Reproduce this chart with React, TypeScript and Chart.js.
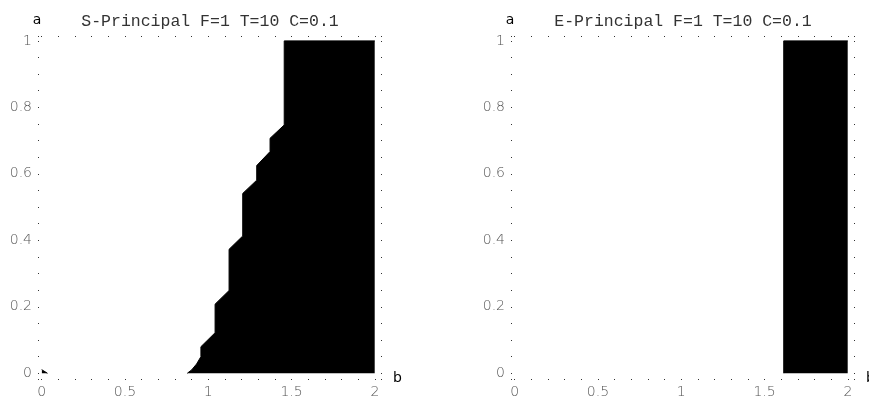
import React, { useEffect, useRef } from 'react';
import { Chart, registerables } from 'chart.js';

Chart.register(...registerables);

// ---- data ----
const xTickValues = [0, 0.5, 1, 1.5, 2];
const yTickValues = [0, 0.2, 0.4, 0.6, 0.8, 1];
const xDotValues = [0, 0.1, 0.2, 0.3, 0.4, 0.5, 0.6, 0.7, 0.8, 0.9, 1, 1.1, 1.2, 1.3, 1.4, 1.5, 1.6, 1.7, 1.8, 1.9, 2];
const yDotValues = [0, 0.05, 0.1, 0.15, 0.2, 0.25, 0.3, 0.35, 0.4, 0.45, 0.5, 0.55, 0.6, 0.65, 0.7, 0.75, 0.8, 0.85, 0.9, 0.95, 1];

const sBoundaryX = [0.874, 0.9, 0.93, 0.956, 0.956, 1.041, 1.041, 1.125, 1.125, 1.207, 1.207, 1.291, 1.291, 1.371, 1.371, 1.456, 1.456, 2];
const sBoundaryY = [0, 0.01, 0.028, 0.05, 0.08, 0.122, 0.208, 0.249, 0.373, 0.413, 0.541, 0.581, 0.625, 0.667, 0.707, 0.747, 1, 1];
const sCornerX = [0, 0.035];
const sCornerY = [0.011, 0];

const eBoundaryX = [1.615, 1.615, 2];
const eBoundaryY = [0, 1, 1];

const titles = ['S-Principal F=1 T=10 C=0.1', 'E-Principal F=1 T=10 C=0.1'];
const yAxisLabel = 'a';
const xAxisLabel = 'b';

type Series = { x: number[]; y: number[] };

const framePlugin = {
  id: 'frameDots',
  afterDraw(chart: any) {
    const { ctx, chartArea: a, scales } = chart;
    const xs = scales.x;
    const ys = scales.y;
    const L = Math.round(a.left);
    const R = Math.round(a.right) - 1;
    const T = Math.round(a.top);
    const B = Math.round(a.bottom) - 1;
    ctx.save();
    ctx.fillStyle = '#333';
    for (const v of xDotValues) {
      const px = Math.round(xs.getPixelForValue(v) - 0.3);
      ctx.fillRect(px, T, 1, 1);
      ctx.fillRect(px, B, 1, 1);
    }
    for (const v of yDotValues) {
      const py = Math.round(ys.getPixelForValue(v) - 0.3);
      ctx.fillRect(L, py, 1, 1);
      ctx.fillRect(R, py, 1, 1);
    }
    ctx.fillRect(L, T, 1, 1);
    ctx.fillRect(R, T, 1, 1);
    ctx.fillRect(L, B, 1, 1);
    ctx.fillRect(R, B, 1, 1);

    ctx.fillStyle = '#000';
    ctx.font = '14px "DejaVu Sans"';
    ctx.textBaseline = 'alphabetic';
    ctx.textAlign = 'center';
    ctx.fillText(yAxisLabel, a.left - 1, a.top - 12);
    ctx.textAlign = 'left';
    ctx.fillText(xAxisLabel, a.right + 11, a.bottom + 2);
    ctx.restore();
  },
};

function makeConfig(title: string, series: Series[]): any {
  return {
    type: 'line',
    data: {
      datasets: series.map((s) => ({
        data: s.x.map((x, i) => ({ x, y: s.y[i] })),
        borderColor: '#000',
        backgroundColor: '#000',
        borderWidth: 1,
        pointRadius: 0,
        fill: 'origin',
        tension: 0,
      })),
    },
    options: {
      responsive: false,
      animation: false,
      devicePixelRatio: 1,
      layout: { padding: { left: 0, top: 0, right: 90, bottom: 0 } },
      plugins: {
        legend: { display: false },
        tooltip: { enabled: false },
        title: {
          display: true,
          text: title,
          fullSize: false,
          color: '#333',
          font: { family: '"Liberation Mono", monospace', size: 16.5, weight: 'normal', lineHeight: 1.2 },
          padding: { top: 12, bottom: 4.2 },
        },
      },
      scales: {
        x: {
          type: 'linear',
          min: -0.022,
          max: 2.043,
          grid: { display: false, drawTicks: false },
          border: { display: false },
          afterBuildTicks: (scale: any) => {
            scale.ticks = xTickValues.map((v) => ({ value: v }));
          },
          afterFit: (scale: any) => {
            scale.height = 21;
          },
          ticks: {
            padding: 4,
            maxRotation: 0,
            autoSkip: false,
            color: '#555',
            font: { family: '"DejaVu Sans"', size: 14, weight: '200' },
            callback: (v: any) => String(v),
          },
        },
        y: {
          type: 'linear',
          min: -0.0202,
          max: 1.0147,
          grid: { display: false, drawTicks: false },
          border: { display: false },
          afterBuildTicks: (scale: any) => {
            scale.ticks = yTickValues.map((v) => ({ value: v }));
          },
          afterFit: (scale: any) => {
            scale.width = 38;
          },
          ticks: {
            padding: 6,
            autoSkip: false,
            color: '#555',
            font: { family: '"DejaVu Sans"', size: 14, weight: '200' },
            callback: (v: any) => String(v),
          },
        },
      },
    },
    plugins: [framePlugin],
  };
}

function Plot({ title, series, left }: { title: string; series: Series[]; left: number }) {
  const ref = useRef<HTMLCanvasElement | null>(null);
  useEffect(() => {
    if (!ref.current) return;
    const chart = new Chart(ref.current, makeConfig(title, series));
    return () => chart.destroy();
  }, [title, series]);
  return (
    <canvas
      ref={ref}
      width={472}
      height={401}
      style={{ position: 'absolute', left, top: 0, width: 472, height: 401 }}
    />
  );
}

const sSeries: Series[] = [
  { x: sBoundaryX, y: sBoundaryY },
  { x: sCornerX, y: sCornerY },
];
const eSeries: Series[] = [{ x: eBoundaryX, y: eBoundaryY }];

export default function App() {
  return (
    <div
      style={{
        position: 'fixed',
        left: 0,
        top: 0,
        width: 869,
        height: 401,
        overflow: 'hidden',
        background: '#fff',
      }}
    >
      <Plot title={titles[0]} series={sSeries} left={0} />
      <Plot title={titles[1]} series={eSeries} left={473} />
    </div>
  );
}
